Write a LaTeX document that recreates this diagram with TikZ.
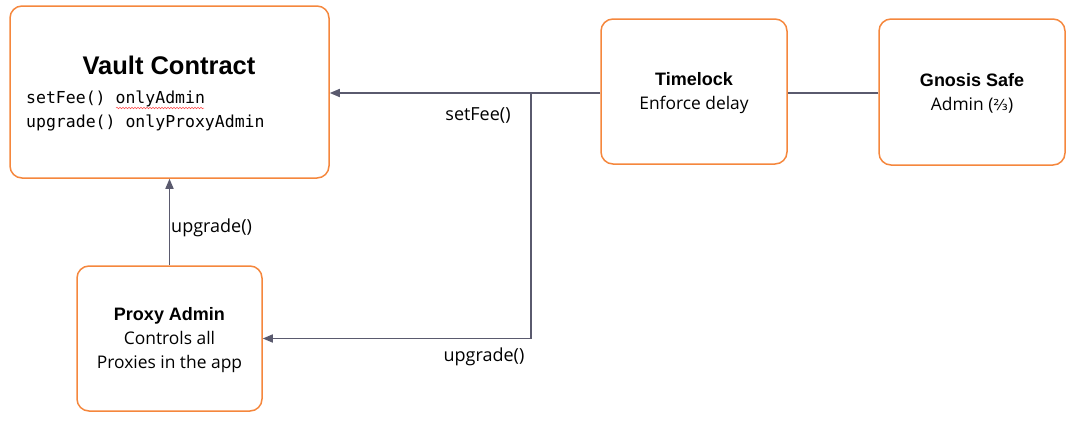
\documentclass[tikz,border=0pt]{standalone}
\usepackage{fontspec}
\setmainfont{Open Sans}
\newfontfamily\titlefont{Liberation Sans}
\newfontfamily\codefont{DejaVu Sans Mono}
\newfontfamily\symfont{DejaVu Sans}
\usetikzlibrary{arrows.meta,decorations.pathmorphing}
\definecolor{boxorange}{HTML}{F5873D}
\definecolor{wire}{HTML}{5A5A6E}
\begin{document}
\begin{tikzpicture}[x=1pt,y=-1pt,
  box/.style={draw=boxorange,line width=1.5pt,rounded corners=12pt,fill=white,inner sep=0pt},
  body/.style={align=center,font=\fontsize{17.4}{24}\selectfont,text=black,inner sep=0pt},
  ttl/.style={font=\titlefont\bfseries\fontsize{18}{24}\selectfont},
  wirestyle/.style={draw=wire,line width=1.6pt},
  arr/.style={wirestyle,-{Triangle[length=10pt,width=8pt]}},
  lbl/.style={font=\fontsize{18}{20}\selectfont,inner sep=0pt}]
\useasboundingbox (0,0) rectangle (1091,445);
% boxes
\node[box,minimum width=319pt,minimum height=172pt] (vault) at (169.5,92) {};
\node[font=\titlefont\bfseries\fontsize{25.5}{30}\selectfont] (vtitle) at (169,65) {Vault Contract};
\node[anchor=west,align=left,inner sep=0pt,font=\codefont\fontsize{16.5}{24}\selectfont] (vcode) at (26,111) {setFee() onlyAdmin\\upgrade() onlyProxyAdmin};
\node[box,minimum width=186pt,minimum height=145pt] (tl) at (694,91.5) {};
\node[body] (tltext) at ([yshift=-2pt]tl.center) {{\titlefont\bfseries\fontsize{18}{24}\selectfont Timelock}\\Enforce delay};
\node[box,minimum width=186pt,minimum height=146pt] (gs) at (972,92) {};
\node[body] (gstext) at ([yshift=-1.5pt]gs.center) {{\titlefont\bfseries\fontsize{18}{24}\selectfont Gnosis Safe}\\Admin ({\symfont\fontsize{15}{24}\selectfont ⅔})};
\node[box,minimum width=185pt,minimum height=145pt] (pa) at (169.5,338.5) {};
\node[body] (patext) at ([yshift=-2pt]pa.center) {{\titlefont\bfseries\fontsize{18}{24}\selectfont Proxy Admin}\\Controls all\\Proxies in the app};
% spell-check squiggle
\draw[red!70,line width=0.5pt,decorate,decoration={snake,amplitude=0.8pt,segment length=3pt}] (116,108) -- (204,108);
% connectors
\coordinate (branch) at (531,93);
\draw[wirestyle] (gs.west |- 0,93) -- (tl.east |- 0,93);
\draw[arr] (tl.west |- 0,93) -- (vault.east |- 0,93);
\draw[arr] (branch) |- (pa.east);
\draw[arr] (pa.north) -- (vault.south);
% labels
\node[lbl] (l1) at (478,115) {setFee()};
\node[lbl] (l2) at (484,357) {upgrade()};
\node[lbl,anchor=west] (l3) at (171,228) {upgrade()};
\end{tikzpicture}
\end{document}
